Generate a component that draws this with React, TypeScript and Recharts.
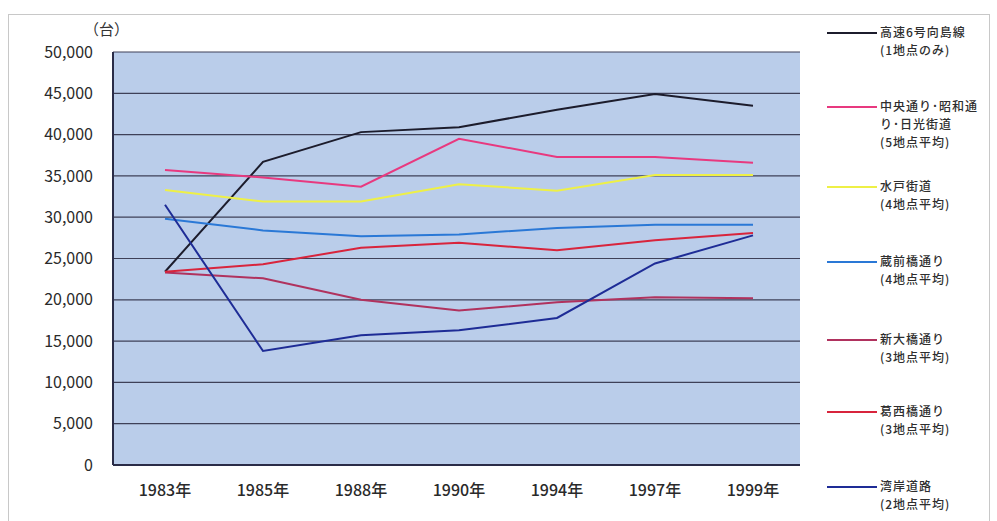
import React from 'react';
import { LineChart, Line, XAxis, YAxis, CartesianGrid, Legend } from 'recharts';

const years = ['1983年', '1985年', '1988年', '1990年', '1994年', '1997年', '1999年'];

const shuto6 = [23400, 36700, 40300, 40900, 43000, 44900, 43500];
const chuo = [35700, 34800, 33700, 39500, 37300, 37300, 36600];
const mito = [33300, 31900, 31900, 34000, 33200, 35100, 35100];
const kuramae = [29800, 28400, 27700, 27900, 28700, 29100, 29100];
const shinohashi = [23300, 22600, 20000, 18700, 19700, 20300, 20200];
const kasai = [23400, 24300, 26300, 26900, 26000, 27200, 28100];
const wangan = [31500, 13800, 15700, 16300, 17800, 24400, 27800];

const yTicks = [0, 5000, 10000, 15000, 20000, 25000, 30000, 35000, 40000, 45000, 50000];

const series = [
  { key: 'shuto6', name: '高速6号向島線', sub: '(1地点のみ)', color: '#1c1c2c', values: shuto6 },
  { key: 'chuo', name: '中央通り･昭和通', name2: 'り･日光街道', sub: '(5地点平均)', color: '#e8397f', values: chuo },
  { key: 'mito', name: '水戸街道', sub: '(4地点平均)', color: '#eef046', values: mito },
  { key: 'kuramae', name: '蔵前橋通り', sub: '(4地点平均)', color: '#2a78d6', values: kuramae },
  { key: 'shinohashi', name: '新大橋通り', sub: '(3地点平均)', color: '#b0325e', values: shinohashi },
  { key: 'kasai', name: '葛西橋通り', sub: '(3地点平均)', color: '#d8243c', values: kasai },
  { key: 'wangan', name: '湾岸道路', sub: '(2地点平均)', color: '#1e2c96', values: wangan },
];

// 凡例の線の縦位置
const legendTops = [33, 107, 187, 262, 340, 412, 487];

const data = years.map((y, i) => {
  const row: Record<string, string | number> = { year: y };
  series.forEach((s) => {
    row[s.key] = s.values[i];
  });
  return row;
});

const font = '"Noto Sans CJK JP", "Noto Sans", sans-serif';

const LegendBox = () => (
  <div style={{ position: 'absolute', left: 827, top: 0, width: 168 }}>
    {series.map((s, i) => (
      <div key={s.key} style={{ position: 'absolute', top: legendTops[i] - 9, left: 0, display: 'flex' }}>
        <div style={{ width: 50, height: 2, background: s.color, marginTop: 8, marginRight: 3 }} />
        <div
          style={{
            fontSize: 12,
            lineHeight: '18px',
            marginTop: -1,
            color: '#2e2e2e',
            fontFamily: font,
            fontWeight: 500,
            letterSpacing: 1,
            whiteSpace: 'nowrap',
          }}
        >
          <div>{s.name}</div>
          {s.name2 && <div>{s.name2}</div>}
          <div>{s.sub}</div>
        </div>
      </div>
    ))}
  </div>
);

export default function App() {
  return (
    <div style={{ position: 'absolute', left: 0, top: 0, width: 997, height: 521, background: '#fff' }}>
      <div
        style={{
          position: 'absolute',
          left: 8,
          top: 14,
          width: 982,
          height: 520,
          border: '1px solid #c8c8c8',
          boxSizing: 'border-box',
        }}
      />
      <div style={{ position: 'absolute', left: 84, top: 18, fontSize: 15, color: '#333', fontFamily: font }}>
        （台）
      </div>
      <LineChart width={997} height={521} data={data} margin={{ top: 52, right: 197, bottom: 16, left: 0 }}>
        <CartesianGrid fill="#bacdea" stroke="#3e4058" strokeWidth={1.2} vertical={false} />
        <XAxis
          dataKey="year"
          padding={{ left: 52, right: 47 }}
          axisLine={{ stroke: '#2a2c48', strokeWidth: 2 }}
          tickLine={false}
          tick={{ fill: '#2a2a2a', fontSize: 16, fontFamily: font, fontWeight: 500 }}
          tickMargin={14}
          height={40}
          interval={0}
        />
        <YAxis
          width={113}
          domain={[0, 50000]}
          ticks={yTicks}
          interval={0}
          tickFormatter={(v: number) => v.toLocaleString('en-US')}
          axisLine={{ stroke: '#2a2c48', strokeWidth: 2 }}
          tickLine={false}
          tick={{ fill: '#2a2a2a', fontSize: 16, fontFamily: font }}
          tickMargin={14}
        />
        <YAxis
          yAxisId="r"
          orientation="right"
          width={0}
          tick={false}
          tickLine={false}
          axisLine={{ stroke: '#2a2c48', strokeWidth: 2 }}
        />
        {series.map((s) => (
          <Line
            key={s.key}
            type="linear"
            dataKey={s.key}
            name={s.name}
            stroke={s.color}
            strokeWidth={2}
            dot={false}
            isAnimationActive={false}
          />
        ))}
        <Legend content={() => null} />
      </LineChart>
      <LegendBox />
    </div>
  );
}
